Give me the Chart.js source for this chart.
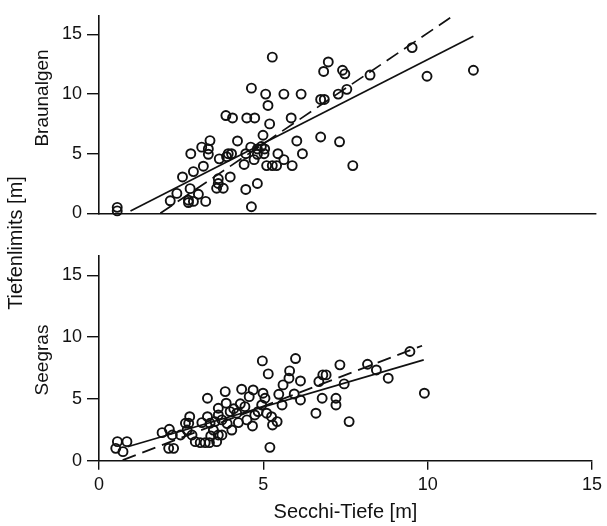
<!DOCTYPE html>
<html>
<head>
<meta charset="utf-8">
<script src="https://cdn.jsdelivr.net/npm/chart.js@4.4.0/dist/chart.umd.min.js"></script>
<style>
  body { margin: 0; background: #fff; }
  #wrap { position: relative; width: 607px; height: 526px; font-family: "Liberation Sans", Arial, sans-serif; color: #111; }
  canvas { position: absolute; left: 0; }
  .vlab { position: absolute; white-space: nowrap; transform: translate(-50%, -50%) rotate(-90deg); font-size: 19px; }
</style>
</head>
<body>
<div id="wrap">
  <canvas id="chartTop" width="607" height="230" style="top:0"></canvas>
  <canvas id="chartBottom" width="607" height="286" style="top:240px"></canvas>
  <div class="vlab" style="left:42px; top:98px">Braunalgen</div>
  <div class="vlab" style="left:42px; top:360px">Seegras</div>
  <div class="vlab" style="left:15px; top:243px; font-size:20px">Tiefenlimits [m]</div>
</div>
<script>
// Braunalgen: Secchi depth vs. depth limit
braunSecchi = [0.55, 0.55, 5.23, 4.6, 5.03, 5.58, 6.1, 5.1, 3.83, 4.03, 4.46, 4.7, 5.15, 5.8, 4.95,
  4.18, 3.35, 3.1, 3.3, 3.3, 2.77, 5.97, 6.69, 7.26, 6.14, 3.9, 4.0, 3.85, 3.63, 4.43, 4.58, 4.78,
  4.9, 5.0, 4.98, 4.78, 4.68, 4.38, 5.06, 5.23, 5.36, 5.4, 5.58, 5.83, 3.15, 2.85, 2.52, 3.96, 3.6,
  3.6, 3.55, 3.75, 4.78, 4.43, 4.6, 2.35, 2.15, 2.75, 3.0, 2.7, 2.7, 2.85, 3.22, 6.69, 6.8, 7.22,
  7.48, 6.78, 6.92, 7.35, 7.42, 7.66, 8.18, 9.45, 9.9, 11.3];
braunTiefe = [0.5, 0.2, 13.1, 10.5, 10.0, 10.0, 10.0, 9.05, 8.2, 8.0, 8.0, 8.0, 7.5, 8.0, 6.55,
  6.07, 6.1, 5.55, 5.4, 4.95, 5.0, 6.07, 6.4, 6.0, 5.0, 5.0, 5.0, 4.75, 4.57, 5.0, 5.55, 5.4,
  5.6, 5.4, 5.0, 4.95, 4.5, 4.1, 4.0, 4.0, 4.0, 5.0, 4.5, 4.0, 3.95, 3.5, 3.05, 3.05, 2.9,
  2.5, 2.1, 2.1, 2.5, 2.0, 0.55, 1.67, 1.05, 2.07, 1.6, 1.1, 0.9, 1.0, 1.0, 9.55, 9.55, 10.0,
  10.4, 11.9, 12.7, 12.0, 11.7, 4.0, 11.6, 13.9, 11.5, 12.0];
braunSolidX = [0.95, 11.3];
braunSolidY = [0.2, 14.85];
braunDashX = [1.85, 10.6];
braunDashY = [0.0, 16.4];

// Seegras
seegrasSecchi = [0.56, 0.85, 0.51, 0.73, 1.92, 2.14, 2.23, 2.12, 2.27, 2.48, 2.63, 2.76, 2.73, 2.68,
  2.83, 2.93, 3.08, 3.23, 3.36, 3.13, 3.3, 3.38, 3.53, 3.48, 3.3, 3.63, 3.63, 3.74, 3.63, 3.58, 3.74,
  3.84, 3.87, 3.99, 4.04, 4.19, 4.34, 4.24, 4.44, 4.57, 4.69, 4.67, 4.74, 4.84, 4.99, 5.05, 4.95,
  5.1, 5.25, 5.28, 5.42, 5.2, 4.97, 5.15, 5.47, 5.57, 5.6, 5.78, 5.8, 5.98, 6.13, 6.13, 5.94, 6.6,
  6.69, 6.81, 6.91, 6.79, 7.21, 7.21, 7.33, 7.46, 7.61, 8.17, 8.44, 8.8, 9.46, 9.9, 3.9, 4.1, 4.5,
  4.3, 3.4];
seegrasTiefe = [1.54, 1.54, 1.0, 0.73, 2.27, 2.54, 2.08, 1.0, 1.0, 2.08, 3.03, 3.56, 3.03, 2.48,
  2.08, 1.54, 1.46, 1.46, 1.46, 3.08, 3.56, 3.03, 3.16, 2.48, 5.05, 4.24, 3.7, 3.3, 2.08, 1.54, 2.08,
  5.59, 4.65, 3.97, 2.48, 3.84, 5.78, 3.08, 4.37, 5.18, 5.72, 2.81, 3.7, 3.97, 5.46, 5.05, 4.51,
  3.84, 3.56, 2.89, 3.16, 1.08, 8.07, 7.02, 5.37, 4.51, 6.13, 6.67, 7.26, 8.26, 6.45, 4.91, 5.4, 3.84,
  6.4, 6.94, 6.94, 5.05, 5.05, 4.51, 7.75, 6.21, 3.16, 7.8, 7.34, 6.67, 8.83, 5.46, 3.0, 4.2, 3.3,
  4.6, 2.0];
seegrasSolidX = [0.87, 9.88];
seegrasSolidY = [1.13, 8.15];
seegrasDashX = [0.72, 9.83];
seegrasDashY = [0.05, 9.3];

xTicks = [0, 5, 10, 15];
yTicks = [0, 5, 10, 15];

const FONT = '"Liberation Sans", Arial, sans-serif';
const INK = '#111';

function toPoints(xs, ys) {
  return xs.map(function (x, i) { return { x: x, y: ys[i] }; });
}

function makeDatasets(sx, sy, solidX, solidY, dashX, dashY) {
  return [{
      type: 'scatter',
      data: toPoints(sx, sy),
      pointStyle: 'circle',
      pointRadius: 4.5,
      pointBorderWidth: 1.9,
      pointBorderColor: INK,
      pointBackgroundColor: 'rgba(0,0,0,0)',
      clip: false,
      order: 2
    },
    {
      type: 'line',
      data: toPoints(solidX, solidY),
      borderColor: INK,
      borderWidth: 1.7,
      pointRadius: 0,
      order: 1
    },
    {
      type: 'line',
      data: toPoints(dashX, dashY),
      borderColor: INK,
      borderWidth: 1.7,
      borderDash: [14, 7],
      pointRadius: 0,
      order: 1
    }];
}

function makeConfig(datasets, padTop, xHeight, showXLabels) {
  return {
    type: 'scatter',
    data: { datasets: datasets },
    options: {
      responsive: false,
      animation: false,
      layout: { padding: { top: padTop, right: 11, left: 0, bottom: 0 } },
      plugins: { legend: { display: false }, tooltip: { enabled: false } },
      scales: {
        x: {
          type: 'linear', min: 0, max: 15,
          afterFit: function (s) { s.height = xHeight; },
          afterBuildTicks: function (s) { s.ticks = xTicks.map(function (v) { return { value: v }; }); },
          border: { display: true, color: INK, width: 1.6 },
          grid: { display: showXLabels, drawOnChartArea: false, drawTicks: true, tickLength: 9, color: INK, lineWidth: 1.4 },
          ticks: { display: showXLabels, color: INK, padding: 5, font: { family: FONT, size: 18 } },
          title: {
            display: showXLabels, text: 'Secchi-Tiefe [m]', color: INK,
            padding: { top: 4, bottom: 2 }, font: { family: FONT, size: 20 }
          }
        },
        y: {
          type: 'linear', min: 0, max: 16.57,
          afterFit: function (s) { s.width = 99; },
          afterBuildTicks: function (s) { s.ticks = yTicks.map(function (v) { return { value: v }; }); },
          border: { display: true, color: INK, width: 1.6 },
          grid: { drawOnChartArea: false, drawTicks: true, tickLength: 12, color: INK, lineWidth: 1.4 },
          ticks: { color: INK, padding: 5, font: { family: FONT, size: 18 } }
        }
      }
    }
  };
}

new Chart(document.getElementById('chartTop'),
  makeConfig(makeDatasets(braunSecchi, braunTiefe, braunSolidX, braunSolidY, braunDashX, braunDashY), 10, 16.7, false));
new Chart(document.getElementById('chartBottom'),
  makeConfig(makeDatasets(seegrasSecchi, seegrasTiefe, seegrasSolidX, seegrasSolidY, seegrasDashX, seegrasDashY), 15, 65.3, true));
</script>
</body>
</html>
